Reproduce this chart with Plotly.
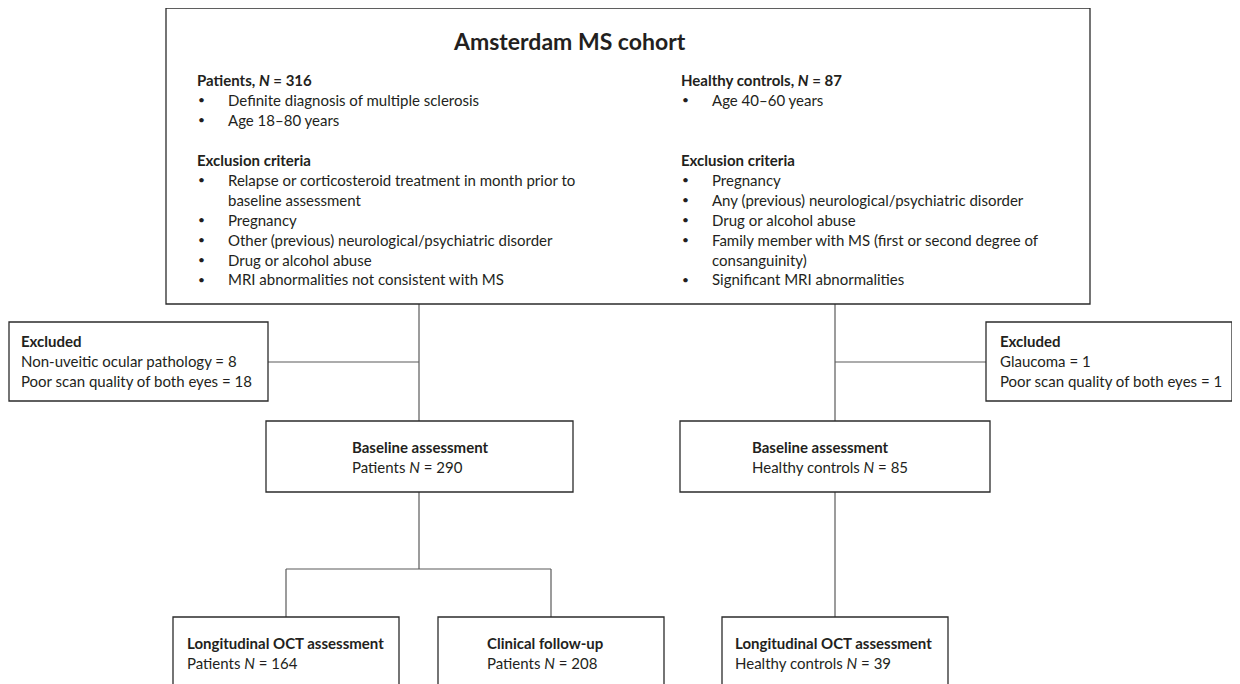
import plotly.graph_objects as go

# ---------------- data ----------------
cohort_title = "Amsterdam MS cohort"
patients_n = 316
controls_n = 87
patient_inclusion = [["Definite diagnosis of multiple sclerosis"], ["Age 18\u201380 years"]]
patient_exclusion = [
    ["Relapse or corticosteroid treatment in month prior to", "baseline assessment"],
    ["Pregnancy"],
    ["Other (previous) neurological/psychiatric disorder"],
    ["Drug or alcohol abuse"],
    ["MRI abnormalities not consistent with MS"],
]
control_inclusion = [["Age 40\u201360 years"]]
control_exclusion = [
    ["Pregnancy"],
    ["Any (previous) neurological/psychiatric disorder"],
    ["Drug or alcohol abuse"],
    ["Family member with MS (first or second degree of", "consanguinity)"],
    ["Significant MRI abnormalities"],
]
excluded_patients_labels = ["Non-uveitic ocular pathology", "Poor scan quality of both eyes"]
excluded_patients_values = [8, 18]
excluded_controls_labels = ["Glaucoma", "Poor scan quality of both eyes"]
excluded_controls_values = [1, 1]
baseline_patients = 290
baseline_controls = 85
oct_patients = 164
followup_patients = 208
oct_controls = 39

# ---------------- style ----------------
W, H = 1240, 684
OFF = 8  # page body margin compensation
FONT = "Lato"
TXT = "#231f20"
BOX = "#2b2b2b"
LINE = "#5a5a5a"
FS = 15
LH = 19.9

fig = go.Figure()
fig.add_trace(go.Scatter(x=[], y=[], mode="markers", showlegend=False))

shapes = []
annotations = []


def box(x0, y0, x1, y1):
    shapes.append(dict(type="rect", xref="x", yref="y", x0=x0, y0=y0, x1=x1, y1=y1,
                       line=dict(color=BOX, width=1.3), fillcolor="rgba(0,0,0,0)", layer="above"))


def seg(x0, y0, x1, y1):
    shapes.append(dict(type="line", xref="x", yref="y", x0=x0, y0=y0, x1=x1, y1=y1,
                       line=dict(color=LINE, width=1.2), layer="below"))


def txt(x, y, s, size=FS, anchor="left"):
    annotations.append(dict(x=x, y=y, xref="x", yref="y", text=s, showarrow=False,
                            xanchor=anchor, yanchor="middle", borderpad=0, borderwidth=0,
                            font=dict(family=FONT, size=size, color=TXT)))


# connectors
LX, RX = 419, 835
seg(LX, 304, LX, 421)
seg(268, 362, LX, 362)
seg(LX, 492, LX, 569)
seg(286, 569, 551, 569)
seg(286, 569, 286, 617)
seg(551, 569, 551, 617)
seg(RX, 304, RX, 421)
seg(RX, 362, 986, 362)
seg(RX, 492, RX, 617)

# boxes
box(166, 8, 1090, 304)
box(9, 322, 268, 401)
box(986, 322, 1232, 401)
box(266, 421, 573, 492)
box(680, 421, 990, 492)
box(173, 617, 399, 700)
box(438, 617, 664, 700)
box(722, 617, 948, 700)

# top box text
txt(569, 41, "<b>%s</b>" % cohort_title, size=23, anchor="center")


def column(xh, xb, xt, y, header, incl, excl_items):
    txt(xh, y, header)
    y += LH
    for item in incl:
        txt(xb, y, "\u2022", size=12)
        for ln in item:
            txt(xt, y, ln)
            y += LH
    y = 160
    txt(xh, y, "<b>Exclusion criteria</b>")
    y += LH
    for item in excl_items:
        txt(xb, y, "\u2022", size=12)
        for ln in item:
            txt(xt, y, ln)
            y += LH


column(197, 198, 228, 80, "<b>Patients, <i>N</i> = %d</b>" % patients_n,
       patient_inclusion, patient_exclusion)
column(681, 682, 712, 80, "<b>Healthy controls, <i>N</i> = %d</b>" % controls_n,
       control_inclusion, control_exclusion)

# excluded boxes
txt(21, 341, "<b>Excluded</b>")
for i, (lab, v) in enumerate(zip(excluded_patients_labels, excluded_patients_values)):
    txt(21, 361 + i * LH, "%s = %d" % (lab, v))
txt(1000, 341, "<b>Excluded</b>")
for i, (lab, v) in enumerate(zip(excluded_controls_labels, excluded_controls_values)):
    txt(1000, 361 + i * LH, "%s = %d" % (lab, v))

# baseline boxes
txt(352, 447, "<b>Baseline assessment</b>")
txt(352, 467, "Patients <i>N</i> = %d" % baseline_patients)
txt(752, 447, "<b>Baseline assessment</b>")
txt(752, 467, "Healthy controls <i>N</i> = %d" % baseline_controls)

# bottom boxes
txt(187, 643, "<b>Longitudinal OCT assessment</b>")
txt(187, 663, "Patients <i>N</i> = %d" % oct_patients)
txt(487, 643, "<b>Clinical follow-up</b>")
txt(487, 663, "Patients <i>N</i> = %d" % followup_patients)
txt(735, 643, "<b>Longitudinal OCT assessment</b>")
txt(735, 663, "Healthy controls <i>N</i> = %d" % oct_controls)

fig.update_layout(
    width=W, height=H,
    margin=dict(l=0, r=0, t=0, b=0),
    paper_bgcolor="white", plot_bgcolor="white",
    xaxis=dict(range=[OFF, W + OFF], visible=False, fixedrange=True),
    yaxis=dict(range=[H + OFF, OFF], visible=False, fixedrange=True),
    shapes=shapes, annotations=annotations, showlegend=False,
)

fig.write_html("out.html")
